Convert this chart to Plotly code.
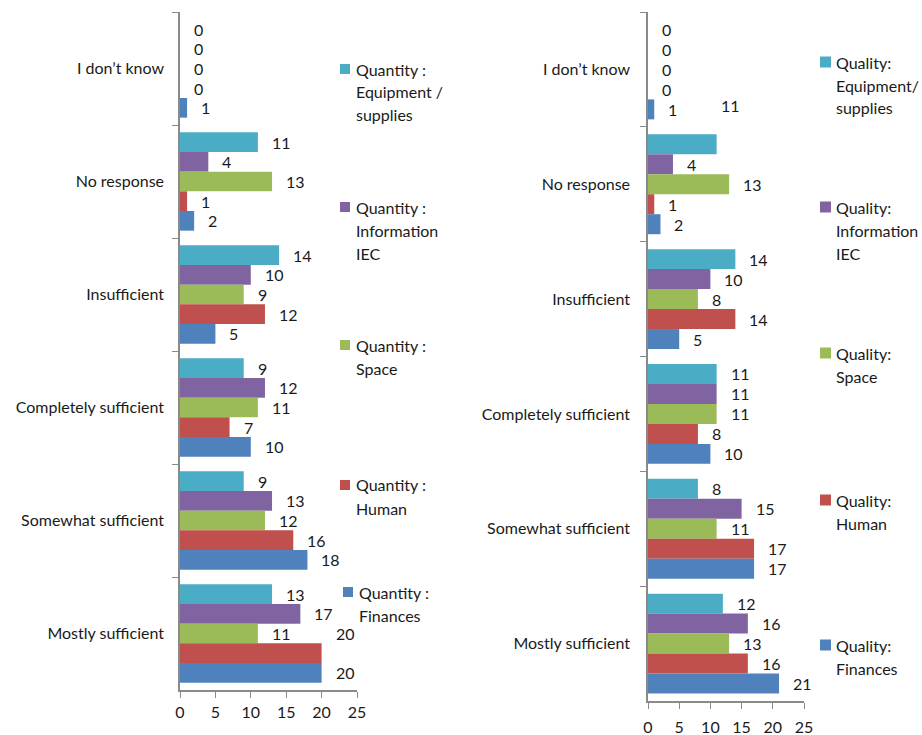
import plotly.graph_objects as go

# ---------------- data ----------------
categories = ["I don’t know", "No response", "Insufficient",
              "Completely sufficient", "Somewhat sufficient", "Mostly sufficient"]

quantity_equipment = [0, 11, 14, 9, 9, 13]
quantity_information = [0, 4, 10, 12, 13, 17]
quantity_space = [0, 13, 9, 11, 12, 11]
quantity_human = [0, 1, 12, 7, 16, 20]
quantity_finances = [1, 2, 5, 10, 18, 20]

quality_equipment = [0, 11, 14, 11, 8, 12]
quality_information = [0, 4, 10, 11, 15, 16]
quality_space = [0, 13, 8, 11, 11, 13]
quality_human = [0, 1, 14, 8, 17, 16]
quality_finances = [1, 2, 5, 10, 17, 21]

quantity_names = [["Quantity :", "Equipment /", "supplies"],
                  ["Quantity :", "Information", "IEC"],
                  ["Quantity :", "Space"],
                  ["Quantity :", "Human"],
                  ["Quantity :", "Finances"]]
quality_names = [["Quality:", "Equipment/", "supplies"],
                 ["Quality:", "Information", "IEC"],
                 ["Quality:", "Space"],
                 ["Quality:", "Human"],
                 ["Quality:", "Finances"]]

x_ticks = [0, 5, 10, 15, 20, 25]

# ---------------- style ----------------
colors = ["#4BACC6", "#8064A2", "#9BBB59", "#C0504D", "#4F81BD"]
FONT = "Lato"
TXT = "#1a1a1a"
AX = "#8a8a8a"
W, H = 922, 735
BARGAP = 0.13


def fx(p):
    return p / W


def fy(p):
    return 1 - p / H


panels = [
    dict(ax="", values=[quantity_equipment, quantity_information, quantity_space,
                        quantity_human, quantity_finances],
         names=quantity_names, xdom=(180, 357), ydom=(12, 690),
         leg_y=[69, 207, 345, 485, 592], sq_x=[340, 340, 340, 340, 343], sq=10,
         txt_x=[354, 354, 354, 354, 357],
         overrides={(3, 5): (0, 1.0)}, ystand=11, xstand=1),
    dict(ax="2", values=[quality_equipment, quality_information, quality_space,
                         quality_human, quality_finances],
         names=quality_names, xdom=(648, 804), ydom=(12, 701),
         leg_y=[62, 207, 353, 500, 645], sq_x=[820] * 5, sq=11,
         txt_x=[834] * 5,
         overrides={(0, 1): (-10, 1.95)}, ystand=13, xstand=5),
]

fig = go.Figure()
annotations = []
shapes = []

for p in panels:
    xa, ya = "x" + p["ax"], "y" + p["ax"]
    for i, vals in enumerate(p["values"]):
        fig.add_trace(go.Bar(
            y=categories, x=vals, orientation="h",
            marker=dict(color=colors[i], line=dict(width=0)),
            xaxis=xa, yaxis=ya, showlegend=False, hoverinfo="x+y"))
    cat_h = (p["ydom"][1] - p["ydom"][0]) / len(categories)
    slot = cat_h * (1 - BARGAP) / 5
    for i, vals in enumerate(p["values"]):
        for j, v in enumerate(vals):
            dx, dslots = p["overrides"].get((i, j), (0, 0))
            annotations.append(dict(
                x=v, y=categories[j], xref=xa, yref=ya,
                text=str(v), showarrow=False, xanchor="left", yanchor="middle",
                xshift=12 + dx, yshift=(2 - i) * slot + dslots * slot,
                font=dict(family=FONT, size=16, color=TXT)))
    # manual legend
    for i, lines in enumerate(p["names"]):
        y0 = p["leg_y"][i]
        s = p["sq"]
        shapes.append(dict(type="rect", xref="paper", yref="paper",
                           x0=fx(p["sq_x"][i]), x1=fx(p["sq_x"][i] + s),
                           y0=fy(y0 + s / 2), y1=fy(y0 - s / 2),
                           fillcolor=colors[i], line=dict(width=0)))
        for k, line in enumerate(lines):
            annotations.append(dict(
                x=fx(p["txt_x"][i]), y=fy(y0 + k * 23), xref="paper", yref="paper",
                text=line, showarrow=False, xanchor="left", yanchor="middle",
                font=dict(family=FONT, size=16, color=TXT)))


def x_axis(p, anchor):
    return dict(domain=[fx(p["xdom"][0]), fx(p["xdom"][1])], anchor=anchor,
                range=[0, 25], tickvals=x_ticks, ticks="outside", ticklen=6,
                tickcolor=AX, showline=True, linecolor=AX, linewidth=1.5,
                showgrid=False, zeroline=False, ticklabelstandoff=p["xstand"],
                automargin=False,
                tickfont=dict(family=FONT, size=16, color=TXT))


def y_axis(p, anchor):
    return dict(domain=[fy(p["ydom"][1]), fy(p["ydom"][0])], anchor=anchor,
                categoryorder="array", categoryarray=categories,
                autorange="reversed", ticks="outside", ticklen=6,
                tickson="boundaries", tickcolor=AX, showline=True,
                linecolor=AX, linewidth=1.5, showgrid=False, zeroline=False,
                ticklabelstandoff=p["ystand"], automargin=False,
                tickfont=dict(family=FONT, size=16, color=TXT))


p0, p1 = panels
fig.update_layout(
    width=W, height=H, margin=dict(l=0, r=0, t=0, b=0, autoexpand=False),
    paper_bgcolor="white", plot_bgcolor="white",
    barmode="group", bargap=BARGAP, bargroupgap=0,
    xaxis=x_axis(p0, "y"), yaxis=y_axis(p0, "x"),
    xaxis2=x_axis(p1, "y2"), yaxis2=y_axis(p1, "x2"),
    annotations=annotations, shapes=shapes,
    font=dict(family=FONT, color=TXT),
)

fig.write_html("out.html")
